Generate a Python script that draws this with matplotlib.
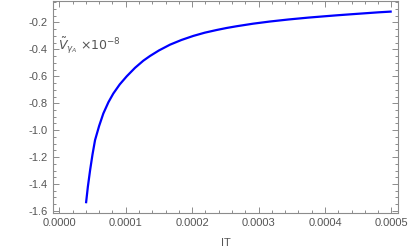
import matplotlib
matplotlib.use('Agg')
import matplotlib.pyplot as plt
from matplotlib.ticker import MultipleLocator, FormatStrFormatter

# values
IT = [0.0000402, 0.0000430, 0.0000464, 0.0000500, 0.0000538, 0.0000600,
      0.0000663, 0.0000740, 0.0000813, 0.0000910, 0.0001015, 0.0001140,
      0.0001265, 0.0001366, 0.0001500, 0.0001667, 0.0001840, 0.0002018,
      0.0002190, 0.0002370, 0.0002520, 0.0002672, 0.0002920, 0.0003172,
      0.0003450, 0.0003750, 0.0004000, 0.0004178, 0.0004400, 0.0004600,
      0.0004800, 0.0005006]
V = [-1.543, -1.420, -1.296, -1.180, -1.074, -0.968,
     -0.876, -0.792, -0.728, -0.660, -0.600, -0.537,
     -0.484, -0.449, -0.408, -0.365, -0.330, -0.300,
     -0.276, -0.256, -0.241, -0.228, -0.209, -0.193,
     -0.178, -0.164, -0.154, -0.147, -0.139, -0.132,
     -0.125, -0.119]

xticks = [0.0, 0.0001, 0.0002, 0.0003, 0.0004, 0.0005]
yticks = [-1.6, -1.4, -1.2, -1.0, -0.8, -0.6, -0.4, -0.2]

plt.rcParams['font.family'] = ['Liberation Sans', 'DejaVu Sans']
plt.rcParams['mathtext.fontset'] = 'dejavusans'

gray = '#8c8c8c'
txt = '#555555'

fig = plt.figure(figsize=(4.09, 2.52), dpi=100)
ax = fig.add_axes([53/409, 1 - 212.7/252, (398 - 53)/409, 212.7/252 - 0.002])

ax.plot(IT, V, color='#0000ff', lw=1.6, solid_capstyle='butt',
        solid_joinstyle='round')

ax.set_xlim(-0.0000095, 0.00051)
ax.set_ylim(-1.613, -0.037)
ax.set_xticks(xticks)
ax.set_yticks(yticks)
ax.xaxis.set_minor_locator(MultipleLocator(0.00002))
ax.yaxis.set_minor_locator(MultipleLocator(0.05))
ax.xaxis.set_major_formatter(FormatStrFormatter('%.4f'))
ax.yaxis.set_major_formatter(FormatStrFormatter('%.1f'))

ax.tick_params(which='both', direction='in', top=True, right=True,
               color=gray, labelcolor=txt, labelsize=8, width=0.7)
ax.tick_params(which='major', length=4, pad=4)
ax.tick_params(which='minor', length=2)
for s in ax.spines.values():
    s.set_color(gray)
    s.set_linewidth(0.8)

ax.set_xlabel('IT', color=txt, fontsize=8, labelpad=7)
ax.text(0.015, 0.765, r'$\tilde{V}_{\gamma_A}$ $\times10^{-8}$', transform=ax.transAxes,
        color=txt, fontsize=9)

fig.savefig('out.png', dpi=100)
